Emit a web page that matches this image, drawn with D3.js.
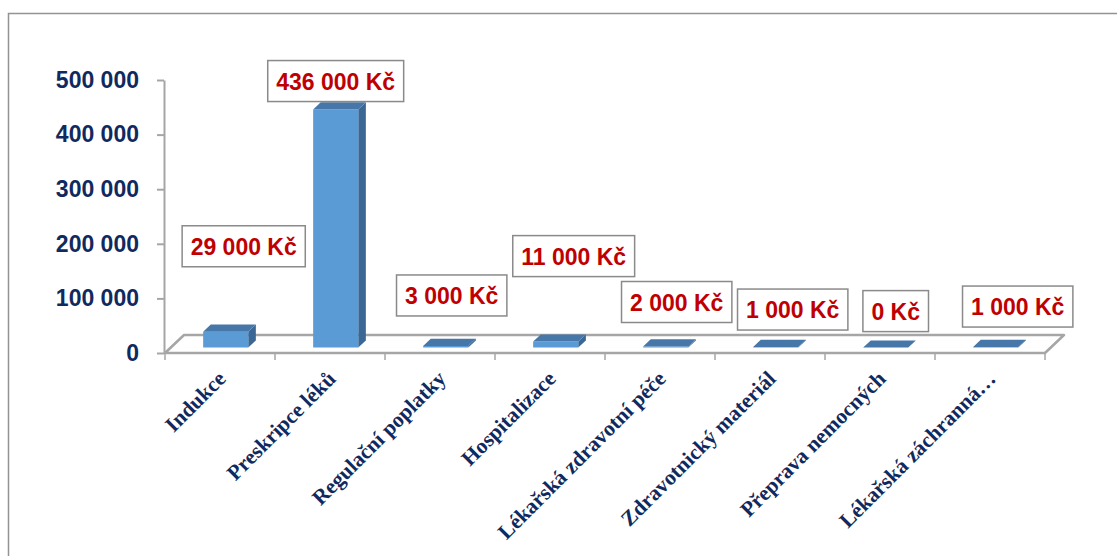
<!DOCTYPE html>
<html>
<head>
<meta charset="utf-8">
<script src="https://d3js.org/d3.v7.min.js"></script>
<style>
  body { margin: 0; background: #fff; }
  .axis--y text { font-family: "Liberation Sans", Arial, sans-serif; font-weight: bold; font-size: 23px; fill: #10295e; }
  .axis--y path, .axis--y line { stroke: #a6a6a6; stroke-width: 2; }
  .xlabel { font-family: "Liberation Serif", "Times New Roman", serif; font-weight: bold; font-size: 21.5px; fill: #10295e; }
  .vlabel text { font-family: "Liberation Sans", Arial, sans-serif; font-weight: bold; font-size: 23px; fill: #c00000; }
  .vlabel rect { fill: #fff; stroke: #8a8a8a; stroke-width: 1.5; }
</style>
</head>
<body>
<svg width="1117" height="556"></svg>
<script>
var categories = ["Indukce", "Preskripce léků", "Regulační poplatky", "Hospitalizace",
    "Lékařská zdravotní péče", "Zdravotnický materiál", "Přeprava nemocných", "Lékařská záchranná…"];
var values = [29000, 436000, 3000, 11000, 2000, 1000, 0, 1000];
var yTicks = [0, 100000, 200000, 300000, 400000, 500000];

// manual nudges of the value boxes (px), like in the original sheet
var labelShift = [[18, -57], [0, 0], [6, -22], [18, -57], [11, -16], [17, -9], [10, -8], [22, -12]];

function drawChart() {
    var svg = d3.select("svg");

    var cz = d3.formatLocale({ decimal: ",", thousands: " ", grouping: [3], currency: ["", " Kč"] });
    var fmt = cz.format(",d");

    // frame around chart area
    svg.append("rect")
        .attr("x", 8.5).attr("y", 13.5)
        .attr("width", 1200).attr("height", 600)
        .attr("fill", "none")
        .attr("stroke", "#939393")
        .attr("stroke-width", 1.5);

    var x = d3.scaleBand().domain(categories).range([165, 1045]);
    var y = d3.scaleLinear().domain([0, 500000]).range([353, 80]);

    // depth of the 3d floor
    var dep = { dx: 19, dy: 18 };
    function px(xv, z) { return xv + z * dep.dx; }
    function py(v, z) { return y(v) - z * dep.dy; }
    function pt(xv, v, z) { return px(xv, z) + "," + py(v, z); }

    // floor
    svg.append("polygon")
        .attr("points", [pt(165, 0, 0), pt(1045, 0, 0), pt(1045, 0, 1), pt(165, 0, 1)].join(" "))
        .attr("fill", "#fff")
        .attr("stroke", "#a6a6a6")
        .attr("stroke-width", 2.5)
        .attr("stroke-linejoin", "round");

    // category ticks
    var edges = categories.map(function (c) { return x(c); }).concat([x.range()[1]]);
    svg.append("g").selectAll("line")
        .data(edges)
        .enter().append("line")
        .attr("x1", function (d) { return d; })
        .attr("x2", function (d) { return d; })
        .attr("y1", y(0))
        .attr("y2", y(0) + 7)
        .attr("stroke", "#a6a6a6")
        .attr("stroke-width", 1.5);

    // y axis
    svg.append("g")
        .attr("class", "axis axis--y")
        .attr("transform", "translate(164,0)")
        .call(d3.axisLeft(y).tickValues(yTicks).tickFormat(fmt).tickSize(7).tickSizeOuter(0).tickPadding(18));

    // bars
    var bw = x.bandwidth() * 0.41, z0 = 0.3, z1 = 0.7;
    var bars = svg.append("g").selectAll("g")
        .data(values)
        .enter().append("g");

    function xl(d, i) { return x(categories[i]) + (x.bandwidth() - bw) / 2; }

    bars.append("polygon")
        .attr("fill", "#3b6794")
        .attr("points", function (d, i) {
            var r = xl(d, i) + bw;
            return [pt(r, 0, z0), pt(r, 0, z1), pt(r, d, z1), pt(r, d, z0)].join(" ");
        });
    bars.append("polygon")
        .attr("fill", "#5b9bd5")
        .attr("points", function (d, i) {
            var l = xl(d, i), r = l + bw;
            return [pt(l, 0, z0), pt(r, 0, z0), pt(r, d, z0), pt(l, d, z0)].join(" ");
        });
    bars.append("polygon")
        .attr("fill", "#4677a8")
        .attr("points", function (d, i) {
            var l = xl(d, i), r = l + bw;
            return [pt(l, d, z0), pt(r, d, z0), pt(r, d, z1), pt(l, d, z1)].join(" ");
        });

    // category labels
    svg.append("g").selectAll("text")
        .data(categories)
        .enter().append("text")
        .attr("class", "xlabel")
        .attr("text-anchor", "end")
        .attr("transform", function (d) {
            return "translate(" + (x(d) + x.bandwidth() / 2 + 7) + ",380) rotate(-45)";
        })
        .text(function (d) { return d; });

    // value boxes
    var lab = svg.append("g").selectAll("g")
        .data(values)
        .enter().append("g")
        .attr("class", "vlabel");

    lab.each(function (d, i) {
        var g = d3.select(this);
        var cx = px(xl(d, i) + bw / 2, z0) + labelShift[i][0];
        var bottom = py(d, z0) - 8 + labelShift[i][1];
        var rect = g.append("rect");
        var t = g.append("text")
            .attr("text-anchor", "middle")
            .attr("x", cx)
            .attr("y", bottom - 12)
            .text(fmt(d) + " Kč");
        var w = t.node().getComputedTextLength() + 17;
        rect.attr("x", cx - w / 2).attr("y", bottom - 41)
            .attr("width", w).attr("height", 41);
    });
}

drawChart();
</script>
</body>
</html>
